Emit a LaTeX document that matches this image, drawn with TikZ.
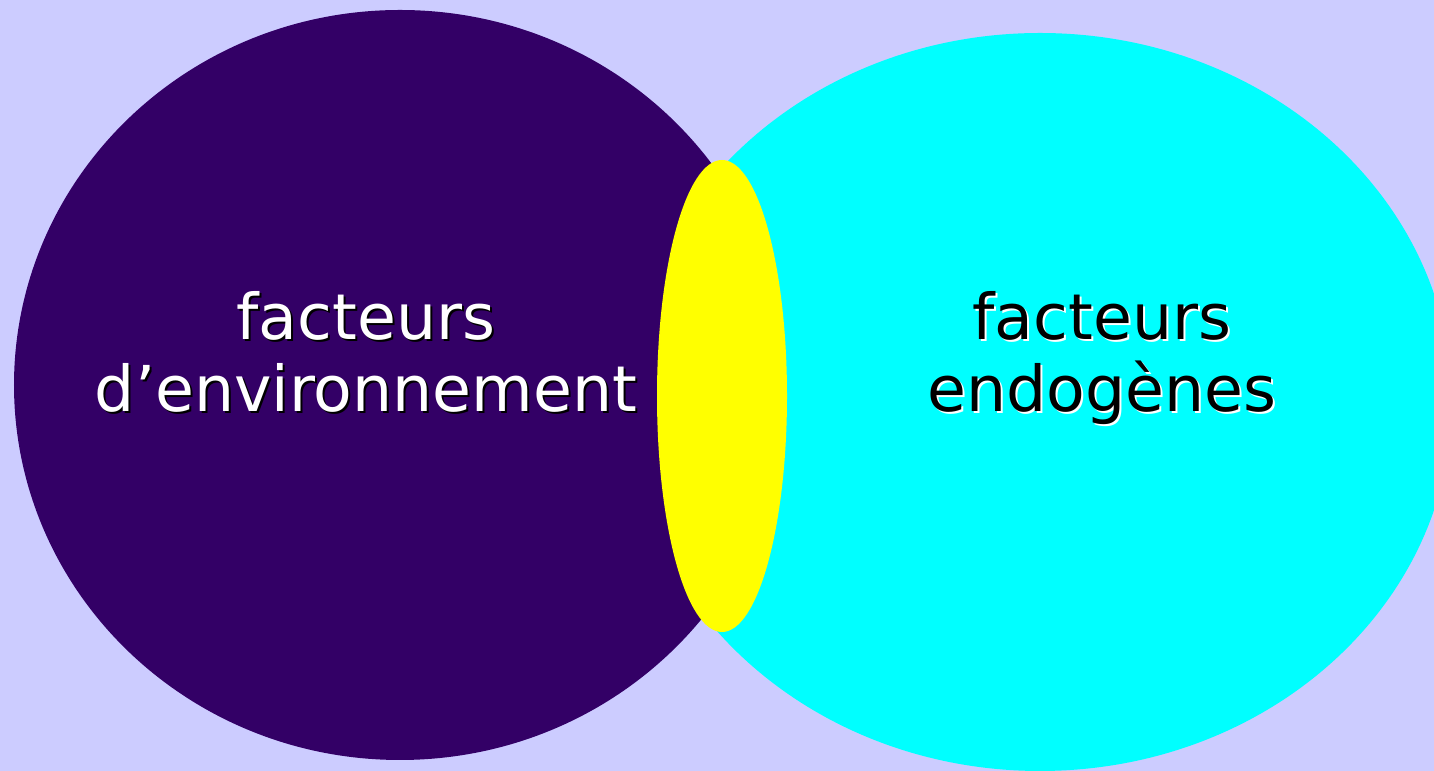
\documentclass[tikz,border=0pt]{standalone}
\usepackage{fontspec}
\setmainfont{DejaVu Sans}
\definecolor{bgblue}{HTML}{CCCCFF}
\definecolor{envpurple}{HTML}{330066}
\definecolor{endocyan}{HTML}{00FFFF}
\definecolor{mixyellow}{HTML}{FFFF00}
\begin{document}
\begin{tikzpicture}[lbl/.style = {font = \fontsize{36}{43}\selectfont, anchor = base, inner sep = 0pt}]
      \fill[bgblue] (0,0) rectangle (28.68,15.42);
      \useasboundingbox (0,0) rectangle (28.68,15.42);

      % the three sets
      \fill[endocyan] (20.8,7.38) ellipse [x radius = 8.24cm, y radius = 7.38cm];
      \fill[envpurple] (8.0,7.72) ellipse [x radius = 7.72cm, y radius = 7.5cm];
      \fill[mixyellow] (14.44,7.5) ellipse [x radius = 1.3cm, y radius = 4.72cm];

      % labels, each line with its shadow
      \node[lbl, black] (env1s) at (7.36,8.58) {facteurs};
      \node[lbl, white] (env1) at (7.32,8.62) {facteurs};
      \node[lbl, black] (env2s) at (7.36,7.14) {d’environnement};
      \node[lbl, white] (env2) at (7.32,7.18) {d’environnement};

      \node[lbl, white] (endo1s) at (22.08,8.58) {facteurs};
      \node[lbl, black] (endo1) at (22.04,8.62) {facteurs};
      \node[lbl, white] (endo2s) at (22.08,7.14) {endogènes};
      \node[lbl, black] (endo2) at (22.04,7.18) {endogènes};
\end{tikzpicture}
\end{document}
